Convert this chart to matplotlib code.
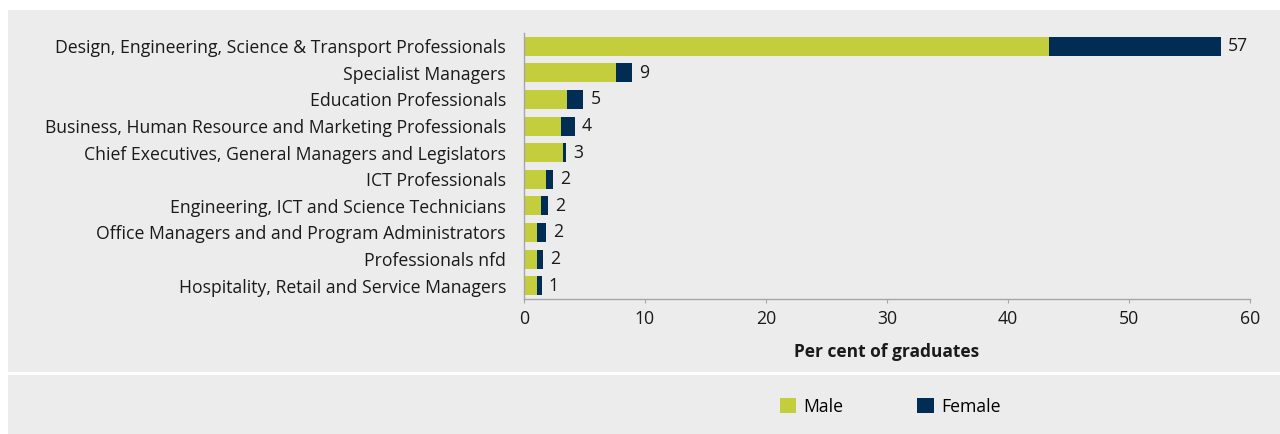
import matplotlib
matplotlib.use("Agg")
import matplotlib.pyplot as plt
from matplotlib.patches import Rectangle, Patch

categories = [
    "Design, Engineering, Science & Transport Professionals",
    "Specialist Managers",
    "Education Professionals",
    "Business, Human Resource and Marketing Professionals",
    "Chief Executives, General Managers and Legislators",
    "ICT Professionals",
    "Engineering, ICT and Science Technicians",
    "Office Managers and and Program Administrators",
    "Professionals nfd",
    "Hospitality, Retail and Service Managers",
]
male = [43.4, 7.6, 3.55, 3.05, 3.2, 1.8, 1.4, 1.05, 1.05, 1.05]
female = [14.2, 1.3, 1.35, 1.15, 0.25, 0.6, 0.55, 0.75, 0.55, 0.4]
total_labels = ["57", "9", "5", "4", "3", "2", "2", "2", "2", "1"]

MALE_C = "#c4cd3b"
FEMALE_C = "#012c54"
BG = "#ececec"
TXT = "#1a1a1a"
FS = 12.7

plt.rcParams["font.family"] = ["Open Sans", "DejaVu Sans"]

W, H = 1280, 434
fig = plt.figure(figsize=(W / 100, H / 100), dpi=100)
fig.patch.set_facecolor("white")
fig.add_artist(Rectangle((8 / W, (H - 372) / H), 1 - 8 / W, (372 - 10) / H,
                         transform=fig.transFigure, facecolor=BG, edgecolor="none", zorder=0))
fig.add_artist(Rectangle((8 / W, 0), 1 - 8 / W, (H - 375) / H,
                         transform=fig.transFigure, facecolor=BG, edgecolor="none", zorder=0))

left, right = 524 / W, 1250 / W
bottom, top = (H - 299) / H, (H - 33) / H
ax = fig.add_axes([left, bottom, right - left, top - bottom])
ax.set_facecolor(BG)

n = len(categories)
y = [n - 1 - i for i in range(n)]
ax.barh(y, male, height=0.72, color=MALE_C, label="Male")
ax.barh(y, female, left=male, height=0.72, color=FEMALE_C, label="Female")
for yi, m, f, lab in zip(y, male, female, total_labels):
    ax.text(m + f + 0.6, yi, lab, va="center", ha="left", fontsize=FS, color=TXT)

ax.set_xlim(0, 60)
ax.set_ylim(-0.5, n - 0.5)
ax.set_yticks(y)
ax.set_yticklabels(categories, fontsize=FS, color=TXT)
ax.set_xticks(range(0, 61, 10))
ax.tick_params(axis="x", labelsize=FS, colors=TXT, length=3, color="#a6a6a6", pad=5)
ax.tick_params(axis="y", length=0, pad=13)
for s in ["top", "right"]:
    ax.spines[s].set_visible(False)
for s in ["left", "bottom"]:
    ax.spines[s].set_color("#a6a6a6")
    ax.spines[s].set_linewidth(1)
ax.set_xlabel("Per cent of graduates", fontsize=12.5, fontweight="bold", labelpad=11, color=TXT)

handles = [Patch(facecolor=MALE_C, label="Male"), Patch(facecolor=FEMALE_C, label="Female")]
fig.legend(handles=handles, loc="center", bbox_to_anchor=(890 / W, (H - 407) / H), ncol=2,
           frameon=False, fontsize=FS, handlelength=0.93, handleheight=0.93,
           handletextpad=0.4, columnspacing=4.2)

fig.savefig("out.png", dpi=100, facecolor=fig.get_facecolor())
